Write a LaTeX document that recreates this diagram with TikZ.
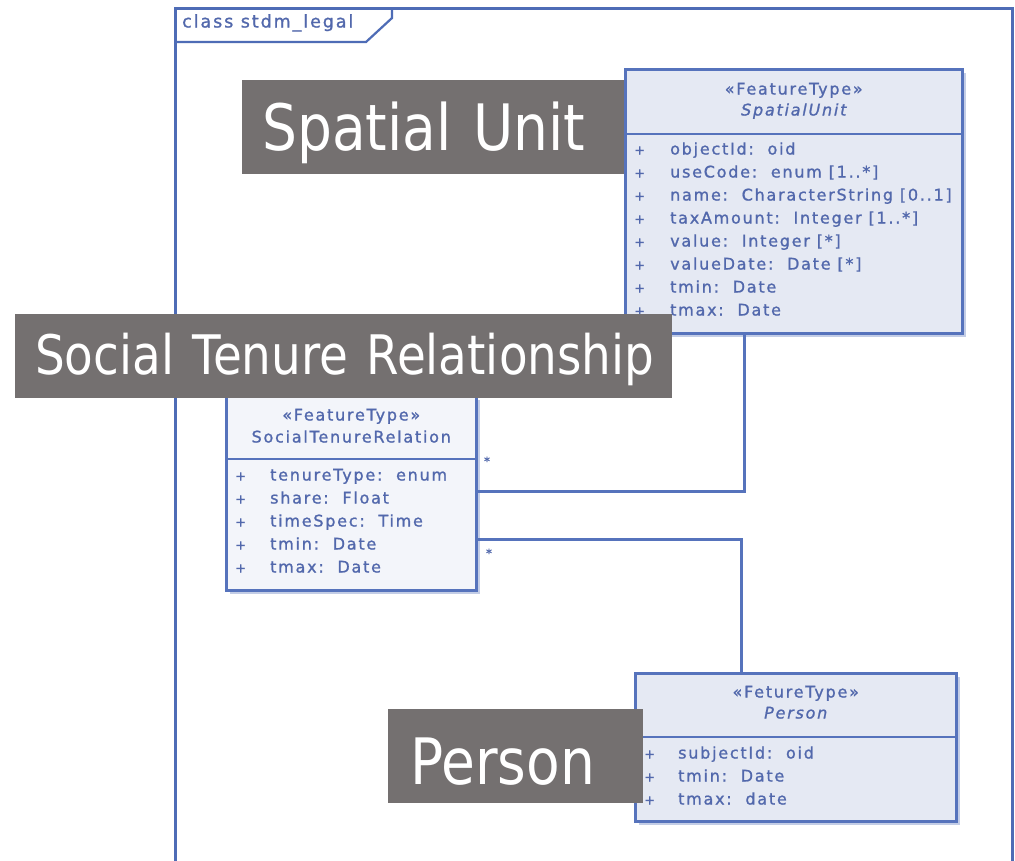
\documentclass[tikz,border=0pt]{standalone}
\usepackage{fontspec}
\setmainfont{DejaVu Sans}
\newfontfamily\umlfont[LetterSpace=11,FakeBold=1.2]{DejaVu Sans}
\newfontfamily\lblfont[FakeStretch=0.86]{DejaVu Sans}
\usetikzlibrary{shadows}
\definecolor{umlline}{HTML}{5673BC}
\definecolor{frameline}{HTML}{4E6CB6}
\definecolor{umltext}{HTML}{5268AC}
\definecolor{shadowc}{HTML}{C3CDE6}
\definecolor{fillA}{HTML}{E5E9F3}
\definecolor{fillB}{HTML}{F3F5FA}
\definecolor{lblgray}{HTML}{747070}
\newcommand{\plussign}[1]{\makebox[#1][l]{\fontsize{13}{13}\selectfont+}}
\newcommand{\lowered}[2]{\raisebox{-#1}[\height][\depth]{#2}}
\begin{document}
\begin{tikzpicture}[x=1pt,y=-1pt,
  umlbox/.style={draw=umlline, line width=2.5pt, anchor=north west, inner sep=0pt,
    drop shadow={shadow xshift=3.5pt, shadow yshift=-3.5pt, fill=shadowc, opacity=1}},
  divline/.style={draw=umlline, line width=2pt},
  frameline/.style={draw=frameline, line width=3pt},
  conn/.style={draw=umlline, line width=2.5pt},
  umltxt/.style={text=umltext, inner sep=0pt, font=\umlfont\fontsize{16}{18}\selectfont,
    text height=0.75em, text depth=0.25em},
  attr/.style={umltxt, anchor=west},
  stereo/.style={umltxt, anchor=center},
  lbl/.style={fill=lblgray, text=white, anchor=north west, inner ysep=0pt, align=left,
    font=\lblfont\fontsize{64}{64}\selectfont},
]
\fill[white] (0,0) rectangle (1015,860);
\useasboundingbox (0,0) rectangle (1015,860);

% frame
\coordinate (ftl) at (175,8);
\coordinate (ftr) at (1012,8);
\coordinate (fbl) at (175,862);
\coordinate (fbr) at (1012,862);
\coordinate (tab1) at (175,42);
\coordinate (tab2) at (366,42);
\coordinate (tab3) at (392,18);
\coordinate (tab4) at (392,8);
\draw[frameline] (fbl) -- (ftl) -- (ftr) -- (fbr);
\draw[frameline, line width=2.2pt] (tab1) -- (tab2) -- (tab3) -- (tab4);
\node[umltxt, anchor=west, font=\umlfont\fontsize{17.5}{18}\selectfont] (framelbl) at (182,25) {class stdm\_legal};

% SpatialUnit
\node[umlbox, fill=fillA, minimum width=337pt, minimum height=264pt] (su) at (624,68) {};
\draw[divline] (su.west |- 0,134) -- (su.east |- 0,134);
\node[stereo] (su-st) at (su.north |- 0,92) {«FeatureType»};
\node[stereo] (su-nm) at (su.north |- 0,113) {\itshape SpatialUnit};
\node[attr] (su1) at (634,152) {\plussign{36pt}objectId:\ \ oid};
\node[attr] (su2) at (634,175) {\plussign{36pt}useCode:\ \ enum [1..*]};
\node[attr] (su3) at (634,198) {\plussign{36pt}name:\ \ CharacterString [0..1]};
\node[attr] (su4) at (634,221) {\plussign{36pt}taxAmount:\ \ Integer [1..*]};
\node[attr] (su5) at (634,244) {\plussign{36pt}value:\ \ Integer [*]};
\node[attr] (su6) at (634,267) {\plussign{36pt}valueDate:\ \ Date [*]};
\node[attr] (su7) at (634,290) {\plussign{36pt}tmin:\ \ Date};
\node[attr] (su8) at (634,313) {\plussign{36pt}tmax:\ \ Date};

% SocialTenureRelation
\node[umlbox, fill=fillB, minimum width=250pt, minimum height=194pt] (str) at (225,395) {};
\draw[divline] (str.west |- 0,459) -- (str.east |- 0,459);
\node[stereo] (str-st) at (str.north |- 0,418) {«FeatureType»};
\node[stereo] (str-nm) at (str.north |- 0,440) {SocialTenureRelation};
\node[attr] (str1) at (235,478) {\plussign{35pt}tenureType:\ \ enum};
\node[attr] (str2) at (235,501) {\plussign{35pt}share:\ \ Float};
\node[attr] (str3) at (235,524) {\plussign{35pt}timeSpec:\ \ Time};
\node[attr] (str4) at (235,547) {\plussign{35pt}tmin:\ \ Date};
\node[attr] (str5) at (235,570) {\plussign{35pt}tmax:\ \ Date};

% Person
\node[umlbox, fill=fillA, minimum width=321pt, minimum height=148pt] (per) at (634,672) {};
\draw[divline] (per.west |- 0,737) -- (per.east |- 0,737);
\node[stereo] (per-st) at (per.north |- 0,695) {«FetureType»};
\node[stereo] (per-nm) at (per.north |- 0,716) {\itshape Person};
\node[attr] (per1) at (644,756) {\plussign{34pt}subjectId:\ \ oid};
\node[attr] (per2) at (644,779) {\plussign{34pt}tmin:\ \ Date};
\node[attr] (per3) at (644,802) {\plussign{34pt}tmax:\ \ date};

% connectors
\draw[conn] ([yshift=2pt]str.east) -| ([xshift=-49.5pt]su.south);
\draw[conn] ([yshift=-46pt]str.east) -| ([xshift=-54.5pt]per.north);
\node[umltxt, anchor=center, font=\umlfont\fontsize{12}{12}\selectfont] (m1) at (487,463) {*};
\node[umltxt, anchor=center, font=\umlfont\fontsize{12}{12}\selectfont] (m2) at (489,555) {*};

% grey labels
\node[lbl, minimum height=94pt, text width=342pt, inner xsep=20pt] (lsu) at (242,80) {\lowered{6pt}{Spatial Unit}};
\node[lbl, minimum height=84pt, text width=617pt, inner xsep=20pt, font=\lblfont\fontsize{54.5}{54.5}\selectfont] (lstr) at (15,314) {\lowered{3pt}{Social Tenure Relationship}};
\node[lbl, minimum height=94pt, text width=211pt, inner xsep=22pt] (lper) at (388,709) {\lowered{5pt}{Person}};
\end{tikzpicture}
\end{document}
